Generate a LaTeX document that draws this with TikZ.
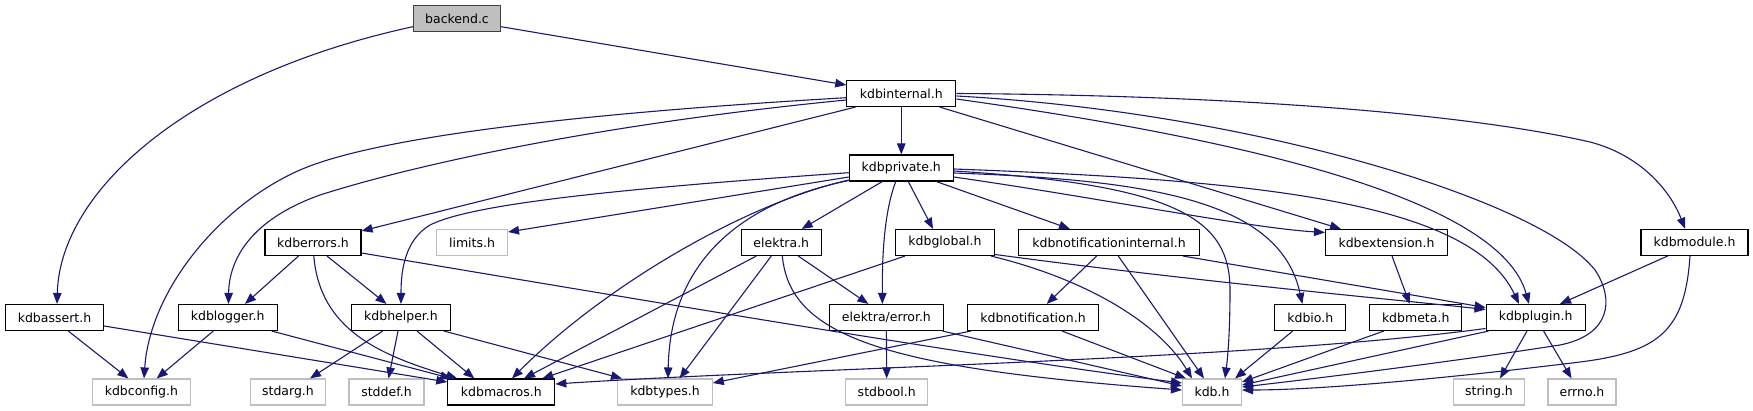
\documentclass[tikz,border=0pt]{standalone}
\usepackage{fontspec}
\setmainfont{DejaVu Sans}
\usetikzlibrary{arrows.meta}
\definecolor{edgec}{HTML}{191970}
\definecolor{graybd}{HTML}{BFBFBF}
\definecolor{rootfill}{HTML}{BFBFBF}
\definecolor{rootbd}{HTML}{404040}
\begin{document}
\begin{tikzpicture}[x=1pt,y=-1pt,
  box/.style={draw=black, line width=1.1pt, fill=white, minimum height=26pt, inner sep=0pt, font=\fontsize{12.5}{14}\selectfont},
  gbox/.style={box, draw=graybd},
  rbox/.style={box, draw=rootbd, fill=rootfill},
  e/.style={draw=edgec, line width=1.1pt, -{Triangle[length=11pt,width=8.5pt]}}]
\useasboundingbox (0,0) rectangle (1753,411);
% row 1
\node[rbox, minimum width=87pt] (backend) at (457,18.7) {backend.c};
% row 2
\node[box, minimum width=109pt] (kdbinternal) at (901.3,93.5) {kdbinternal.h};
% row 3
\node[box, minimum width=104pt] (kdbprivate) at (901.3,168) {kdbprivate.h};
% row 4
\node[box, minimum width=96pt] (kdberrors) at (313,242.5) {kdberrors.h};
\node[gbox, minimum width=71pt] (limits) at (472,242.5) {limits.h};
\node[box, minimum width=80pt] (elektra) at (781.3,242.5) {elektra.h};
\node[box, minimum width=99pt] (kdbglobal) at (945,242.5) {kdbglobal.h};
\node[box, minimum width=181pt] (kni) at (1109,242.5) {kdbnotificationinternal.h};
\node[box, minimum width=122pt] (kext) at (1386.5,242.5) {kdbextension.h};
\node[box, minimum width=107pt] (kmod) at (1694.5,242.3) {kdbmodule.h};
% row 5
\node[box, minimum width=98pt] (kdbassert) at (54.5,317.5) {kdbassert.h};
\node[box, minimum width=99pt] (kdblogger) at (227.7,317.5) {kdblogger.h};
\node[box, minimum width=99.5pt] (kdbhelper) at (401,317.5) {kdbhelper.h};
\node[box, minimum width=114.5pt] (eerr) at (886.4,317.5) {elektra/error.h};
\node[box, minimum width=131pt] (knot) at (1033,317.5) {kdbnotification.h};
\node[box, minimum width=71pt] (kdbio) at (1310.3,317.5) {kdbio.h};
\node[box, minimum width=92pt] (kdbmeta) at (1415.7,317.5) {kdbmeta.h};
\node[box, minimum width=99pt] (kdbplugin) at (1535.6,317.5) {kdbplugin.h};
% row 6
\node[gbox, minimum width=97.6pt] (kdbconfig) at (141.4,392) {kdbconfig.h};
\node[gbox, minimum width=74.6pt] (stdarg) at (288,392) {stdarg.h};
\node[gbox, minimum width=75pt] (stddef) at (386.5,392) {stddef.h};
\node[box, minimum width=107pt] (kdbmacros) at (501.3,392) {kdbmacros.h};
\node[gbox, minimum width=94.5pt] (kdbtypes) at (665,392) {kdbtypes.h};
\node[gbox, minimum width=82pt] (stdbool) at (886.7,392) {stdbool.h};
\node[gbox, minimum width=59pt] (kdbh) at (1212,392) {kdb.h};
\node[gbox, minimum width=71pt] (string) at (1489,392) {string.h};
\node[gbox, minimum width=68pt] (errno) at (1582,392) {errno.h};

% backend.c
\draw[e] ([yshift=-8]backend.east) -- ([yshift=8.5]kdbinternal.west);
\draw[e] ([yshift=-8]backend.west) .. controls (190,75) and (60,190) .. ([xshift=2.5]kdbassert.north);
% kdbinternal.h
\draw[e] (kdbinternal) -- (kdbprivate);
\draw[e] ([yshift=-4.2]kdbinternal.west) .. controls (600,112) and (380,135) .. (300,170)
   .. controls (220,205) and (150,290) .. ([xshift=2.6]kdbconfig.north);
\draw[e] ([yshift=-6.5]kdbinternal.west) .. controls (620,122) and (430,160) .. (320,195)
   .. controls (250,220) and (229,260) .. ([xshift=0.8]kdblogger.north);
\draw[e] ([xshift=-45.8]kdbinternal.south) -- ([yshift=11.5]kdberrors.east);
\draw[e] ([xshift=38.4]kdbinternal.south) -- ([xshift=-45.5]kext.north);
\draw[e] ([yshift=-5.5]kdbinternal.east) .. controls (1250,140) and (1500,200) .. ([xshift=-6.6]kdbplugin.north);
\draw[e] ([yshift=-2.5]kdbinternal.east) .. controls (1250,112) and (1540,200) .. (1595,270)
   .. controls (1615,300) and (1610,335) .. (1560,345)
   .. controls (1450,362) and (1320,378) .. ([yshift=5]kdbh.east);
\draw[e] (kdbinternal.east) .. controls (1200,95) and (1450,110) .. (1590,142)
   .. controls (1640,155) and (1670,190) .. ([xshift=-9.5]kmod.north);
% kdbprivate.h
\draw[e] ([yshift=-4.7]kdbprivate.west) .. controls (600,190) and (470,205) .. (430,225)
   .. controls (405,240) and (401,270) .. (kdbhelper.north);
\draw[e] ([yshift=-9]kdbprivate.west) -- ([yshift=10.5]limits.east);
\draw[e] ([yshift=-12]kdbprivate.west) .. controls (740,205) and (600,290) .. ([xshift=10.7]kdbmacros.north);
\draw[e] ([yshift=-12.5]kdbprivate.west) .. controls (730,205) and (670,270) .. ([xshift=3]kdbtypes.north);
\draw[e] ([xshift=-19]kdbprivate.south) -- ([xshift=20.4]elektra.north);
\draw[e] ([xshift=-5.6]kdbprivate.south) .. controls (885,210) and (882,250) .. ([xshift=-4]eerr.north);
\draw[e] ([xshift=7]kdbprivate.south) -- ([xshift=-12]kdbglobal.north);
\draw[e] ([xshift=35]kdbprivate.south) -- ([xshift=-39]kni.north);
\draw[e] ([yshift=-9]kdbprivate.east) .. controls (1100,198) and (1250,228) .. ([yshift=10]kext.west);
\draw[e] ([yshift=-5]kdbprivate.east) .. controls (1150,180) and (1280,200) .. ([xshift=-8]kdbio.north);
\draw[e] ([yshift=-3]kdbprivate.east) .. controls (1180,185) and (1230,220) .. (1230,290)
   .. controls (1230,330) and (1228,355) .. ([xshift=13]kdbh.north);
\draw[e] ([yshift=-1]kdbprivate.east) .. controls (1250,180) and (1470,200) .. ([xshift=-16.6]kdbplugin.north);
% kdberrors.h
\draw[e] ([xshift=-14.5]kdberrors.south) -- ([xshift=17.3]kdblogger.north);
\draw[e] ([xshift=14]kdberrors.south) -- ([xshift=-14.5]kdbhelper.north);
\draw[e] ([xshift=0.8]kdberrors.south) .. controls (320,330) and (380,355) .. ([xshift=-44]kdbmacros.north);
\draw[e] ([yshift=-10.5]kdberrors.east) .. controls (700,310) and (1000,360) .. ([yshift=9]kdbh.west);
% kdbassert.h, kdblogger.h, kdbhelper.h
\draw[e] ([xshift=13.8]kdbassert.south) -- ([xshift=-13]kdbconfig.north);
\draw[e] ([yshift=-8.5]kdbassert.east) -- ([yshift=10]kdbmacros.west);
\draw[e] ([xshift=-14.4]kdblogger.south) -- ([xshift=15.3]kdbconfig.north);
\draw[e] ([xshift=44]kdblogger.south) -- ([xshift=-50]kdbmacros.north);
\draw[e] ([xshift=-18.3]kdbhelper.south) -- ([xshift=22]stdarg.north);
\draw[e] ([xshift=-3]kdbhelper.south) -- ([xshift=2]stddef.north);
\draw[e] ([xshift=16]kdbhelper.south) -- ([xshift=-27]kdbmacros.north);
\draw[e] ([xshift=43]kdbhelper.south) -- ([xshift=-43]kdbtypes.north);
% elektra.h
\draw[e] ([xshift=-25]elektra.south) -- ([xshift=22.7]kdbmacros.north);
\draw[e] ([xshift=-10]elektra.south) -- ([xshift=14.5]kdbtypes.north);
\draw[e] ([xshift=17]elektra.south) -- ([xshift=-18]eerr.north);
\draw[e] ([xshift=1]elektra.south) .. controls (790,335) and (880,368) .. ([yshift=2]kdbh.west);
% kdbglobal.h
\draw[e] ([xshift=-40]kdbglobal.south) -- ([xshift=41]kdbmacros.north);
\draw[e] ([xshift=46]kdbglobal.south) .. controls (1090,280) and (1160,325) .. ([xshift=-20]kdbh.north);
\draw[e] ([yshift=-12]kdbglobal.east) .. controls (1200,282) and (1400,300) .. ([yshift=8]kdbplugin.west);
% kdbnotificationinternal.h
\draw[e] ([xshift=-12.4]kni.south) -- ([xshift=13.7]knot.north);
\draw[e] ([xshift=9.3]kni.south) -- ([xshift=-8]kdbh.north);
\draw[e] ([xshift=74]kni.south) -- ([yshift=10]kdbplugin.west);
% kdbextension.h, kdbmodule.h
\draw[e] ([xshift=5.5]kext.south) -- ([xshift=-6]kdbmeta.north);
\draw[e] ([xshift=-26.5]kmod.south) -- ([xshift=24.4]kdbplugin.north);
\draw[e] ([xshift=-4.5]kmod.south) .. controls (1685,330) and (1660,352) .. (1580,362)
   .. controls (1450,378) and (1320,390) .. ([yshift=2]kdbh.east);
% row 5 to row 6
\draw[e] (eerr.south) -- (stdbool.north);
\draw[e] ([xshift=56]eerr.south) -- ([yshift=6]kdbh.west);
\draw[e] ([xshift=-62]knot.south) -- ([yshift=9]kdbtypes.east);
\draw[e] ([xshift=29]knot.south) -- ([xshift=-26]kdbh.north);
\draw[e] ([xshift=-17.6]kdbio.south) -- ([xshift=23]kdbh.north);
\draw[e] ([xshift=-32]kdbmeta.south) -- ([yshift=10]kdbh.east);
\draw[e] ([yshift=-11]kdbplugin.west) .. controls (1250,360) and (800,368) .. ([yshift=8]kdbmacros.east);
\draw[e] ([xshift=-47]kdbplugin.south) -- ([yshift=7]kdbh.east);
\draw[e] ([xshift=-8.6]kdbplugin.south) -- ([xshift=11]string.north);
\draw[e] ([xshift=8]kdbplugin.south) -- ([xshift=-10.5]errno.north);
\end{tikzpicture}
\end{document}
